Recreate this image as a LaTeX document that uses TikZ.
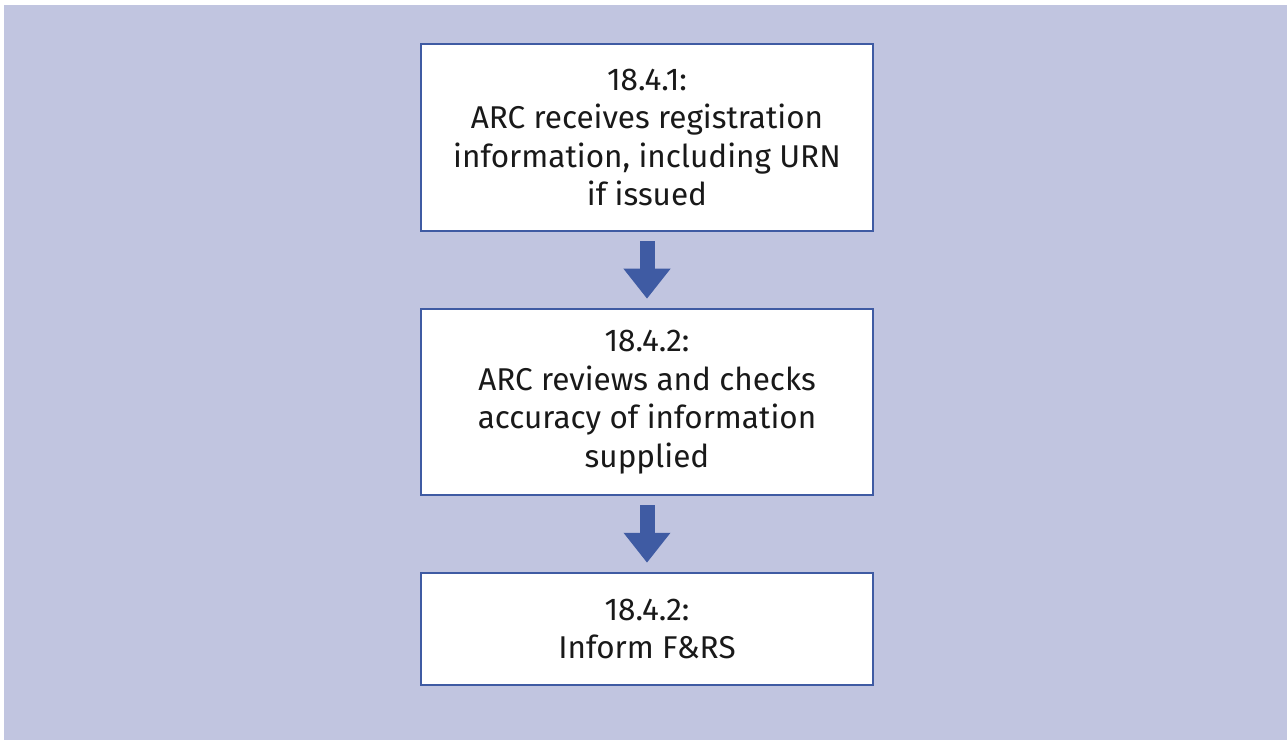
\documentclass[tikz,border=0pt]{standalone}
\usepackage{fontspec}
\setmainfont{Fira Sans}
\usetikzlibrary{arrows.meta}
\definecolor{bgc}{HTML}{C1C5E0}
\definecolor{bluec}{HTML}{3F5BA3}
\tikzset{
  stepbox/.style={draw=bluec, line width=2.5pt, fill=white, align=center,
    font=\fontsize{31.5}{38.5}\selectfont, text=black!90, inner sep=0pt},
  blockarrow/.style={draw=bluec, line width=15pt,
    -{Triangle[width=45pt,length=30pt]}, shorten <=9pt, shorten >=9pt}
}
\begin{document}
\begin{tikzpicture}[x=1pt,y=1pt]
\useasboundingbox (0,0) rectangle (1287,740);
\fill[white] (0,0) rectangle (1287,740);
\fill[bgc] (4,0) rectangle (1287,735);
\node[stepbox, minimum width=452pt, minimum height=187pt] (b1) at (647,602.5)
  {18.4.1:\\ARC receives registration\\information, including URN\\if issued};
\node[stepbox, minimum width=452pt, minimum height=186pt] (b2) at (647,338)
  {18.4.2:\\ARC reviews and checks\\accuracy of information\\supplied};
\node[stepbox, minimum width=452pt, minimum height=112pt] (b3) at (647,111)
  {18.4.2:\\Inform F\&RS};
\draw[blockarrow] (b1.south) -- (b2.north);
\draw[blockarrow] (b2.south) -- (b3.north);
\end{tikzpicture}
\end{document}
